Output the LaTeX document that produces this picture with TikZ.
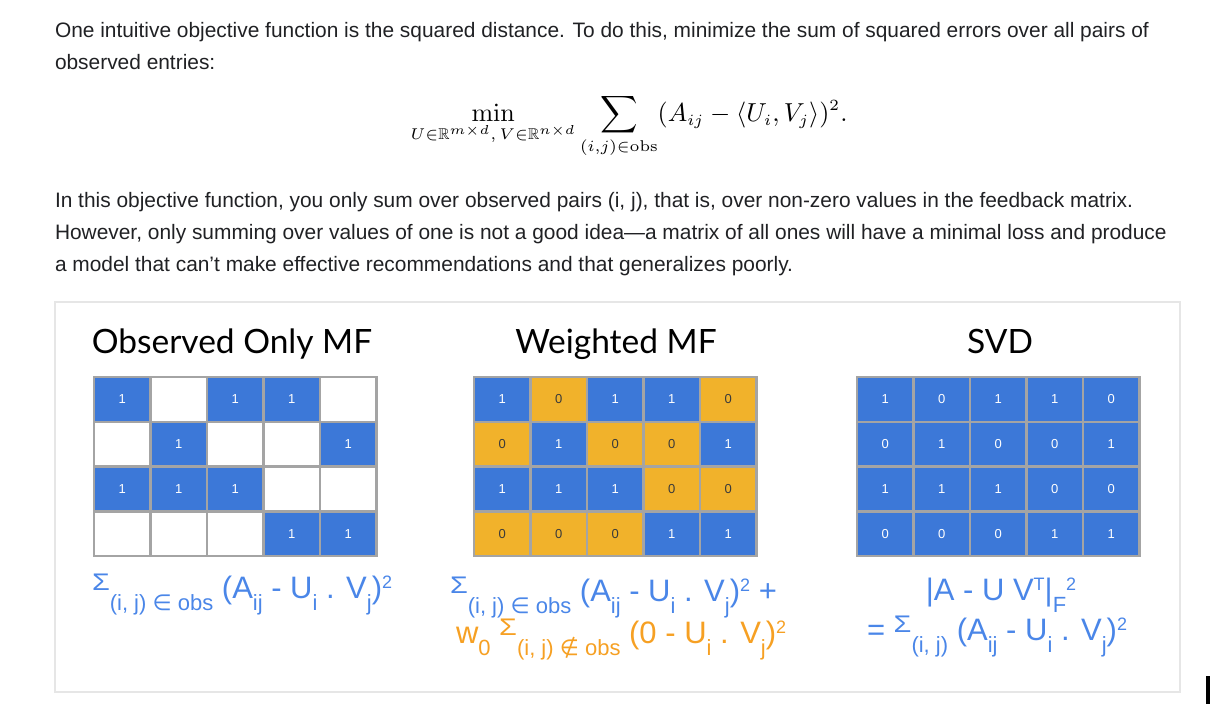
\documentclass[tikz,border=0pt]{standalone}
\usepackage[no-math]{fontspec}
\usepackage{amssymb}
\setmainfont{Liberation Sans}
\newfontfamily\titlefont{Lato}
\newfontfamily\symfont{DejaVu Sans}
\DeclareMathSizes{10}{10}{6}{5}
\definecolor{bodytext}{HTML}{202124}
\definecolor{cellblue}{HTML}{3C78D8}
\definecolor{cellorange}{HTML}{F1B22B}
\definecolor{gridgray}{HTML}{A4A4A4}
\definecolor{panelgray}{HTML}{E6E6E6}
\definecolor{lossblue}{HTML}{4A86E8}
\definecolor{lossorange}{HTML}{F6A023}
\definecolor{zerotext}{HTML}{3A3A3A}
% sub- and superscripts of the loss formulas
\newcommand{\lo}[1]{\raisebox{-12pt}{\fontsize{22}{22}\selectfont #1}}
\newcommand{\hi}[1]{\raisebox{10pt}{\fontsize{18}{18}\selectfont #1}}
\newcommand{\sig}{\raisebox{8pt}{\fontsize{24}{24}\selectfont\scalebox{1.2}[1]{\symbol{"03A3}}}}
\tikzset{
  body/.style={anchor=base west, text=bodytext, font=\fontsize{20.9}{24}\selectfont},
  title/.style={anchor=base, text=black, font=\titlefont\fontsize{33.5}{38}\selectfont},
  cell/.style={rectangle, draw=gridgray, line width=2.5, minimum width=56.5, minimum height=44.75, font=\fontsize{13}{13}\selectfont},
  loss/.style={anchor=base west, text=lossblue, font=\fontsize{31}{34}\selectfont},
}
\begin{document}
\begin{tikzpicture}[y=1pt, x=1pt, yscale=-1, inner sep=0pt, outer sep=0pt]
\useasboundingbox (0,0) rectangle (1214,704);
% text above the panel
\node[body] (line1) at (55,37) {One intuitive objective function is the squared distance. To do this, minimize the sum of squared errors over all pairs of};
\node[body] (line2) at (55,69) {observed entries:};
\node[scale=2.6] (objective) at (629,126) {$\displaystyle \min_{U\in\mathbb{R}^{m\times d},\, V\in\mathbb{R}^{n\times d}} \sum_{(i,j)\in\mathrm{obs}} (A_{ij} - \langle U_i, V_j\rangle)^2.$};
\node[body] (line3) at (55,207) {In this objective function, you only sum over observed pairs (i, j), that is, over non-zero values in the feedback matrix.};
\node[body] (line4) at (55,239) {However, only summing over values of one is not a good idea—a matrix of all ones will have a minimal loss and produce};
\node[body] (line5) at (55,271) {a model that can't make effective recommendations and that generalizes poorly.};
% panel
\node[draw=panelgray, line width=1.2, minimum width=1125, minimum height=390, anchor=north west] (panel) at (55,302) {};
\node[title] (obstitle) at (232,353) {Observed Only MF};
\node[title] (wmftitle) at (616,353) {Weighted MF};
\node[title] (svdtitle) at (1000,353) {SVD};
% the three matrices
\foreach [count=\r] \vals in {{1,0,1,1,0},{0,1,0,0,1},{1,1,1,0,0},{0,0,0,1,1}}{
  \foreach [count=\c] \v in \vals {
    \ifnum\v=1
      \node[cell, fill=cellblue, text=white] (obs-\r-\c) at ({94+56.5*(\c-0.5)},{377+44.75*(\r-0.5)}) {1};
      \node[cell, fill=cellblue, text=white] (wmf-\r-\c) at ({474+56.5*(\c-0.5)},{377+44.75*(\r-0.5)}) {1};
    \else
      \node[cell, fill=white] (obs-\r-\c) at ({94+56.5*(\c-0.5)},{377+44.75*(\r-0.5)}) {};
      \node[cell, fill=cellorange, text=zerotext] (wmf-\r-\c) at ({474+56.5*(\c-0.5)},{377+44.75*(\r-0.5)}) {0};
    \fi
    \node[cell, fill=cellblue, text=white] (svd-\r-\c) at ({857+56.5*(\c-0.5)},{377+44.75*(\r-0.5)}) {\v};
  }
}
% losses
\node[loss] (obsloss) at (92,598) {\sig\lo{(i, j) {\symfont ∈} obs} (A\lo{ij} - U\lo{i} . V\lo{j})\hi{2}};
\node[loss] (wmfloss) at (450,601) {\sig\lo{(i, j) {\symfont ∈} obs} (A\lo{ij} - U\lo{i} . V\lo{j})\hi{2} +};
\node[loss, text=lossorange] (wmfzero) at (456,643) {w\lo{0} \sig\lo{(i, j) {\symfont ∉} obs} (0 - U\lo{i} . V\lo{j})\hi{2}};
\node[loss, anchor=base] (svdnorm) at (1001,600) {|A - U V\hi{T}|\lo{F}\hi{2}};
\node[loss, anchor=base] (svdsum) at (997,640) {= \sig\lo{(i, j)} (A\lo{ij} - U\lo{i} . V\lo{j})\hi{2}};
\node[fill=black, minimum width=4, minimum height=28, anchor=north west] (cursor) at (1206,676) {};
\end{tikzpicture}
\end{document}
